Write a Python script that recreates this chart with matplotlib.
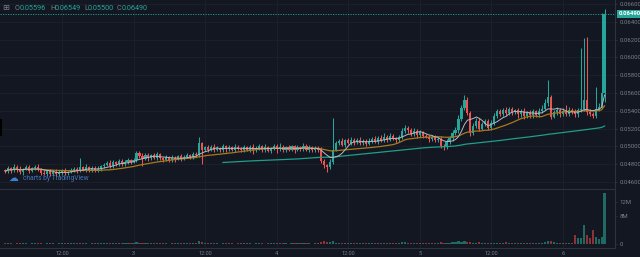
import numpy as np
import pandas as pd
import matplotlib
matplotlib.use('Agg')
import matplotlib.pyplot as plt
import matplotlib.transforms as mtransforms
from matplotlib.patches import Rectangle

plt.rcParams['font.family'] = ['Roboto', 'DejaVu Sans']

# ---------------- data (prices in 1e-5 units, volume in millions) ----------------
first_open_1e5 = 4735
close_1e5 = [
    4720, 4755, 4730, 4768, 4740, 4712, 4750, 4765, 4725, 4758, 4772, 4738,
    4705, 4690, 4722, 4695, 4718, 4688, 4710, 4730, 4698, 4715, 4735,
    4750, 4728, 4765, 4740, 4770, 4732, 4758, 4725, 4745, 4775,
    4790, 4815, 4780, 4822, 4800, 4835, 4805, 4825,
    4848, 4830, 4842,
    4930,
    4895, 4860, 4905, 4868, 4900, 4872, 4910, 4865,
    4850, 4880, 4845, 4875, 4858, 4890, 4862, 4885,
    4900, 4880, 4912, 4905,
    5035,
    4965,
    4990, 4960, 4995, 4965, 4985, 4955, 5000, 4970, 4992, 4962, 4998, 4975, 4960, 4990,
    4965, 4995, 4955, 4985, 5000, 4962, 4990, 4950, 4982, 5005, 4968, 4995, 4958, 4988,
    4965, 5000, 4960, 4992, 4970, 5008, 4962, 4990, 4955, 4985, 4960,
    4840, 4790, 4770,
    4830, 4965,
    5035, 5060, 5020, 5068, 5040, 5075, 5045, 5070, 5038, 5060,
    5030, 5065, 5085, 5055, 5100, 5070, 5110, 5075, 5120, 5090, 5070, 5105,
    5170, 5210, 5185,
    5140, 5175, 5125, 5160, 5115,
    5110, 5080, 5105, 5070, 5085, 5005, 4990, 5045,
    5090, 5150, 5180,
    5310, 5430, 5525,
    5380, 5150,
    5230, 5290, 5200, 5255,
    5285, 5210, 5265,
    5340, 5400, 5365,
    5410, 5375, 5420, 5385, 5405,
    5360, 5400, 5340, 5385, 5350, 5395, 5355, 5395,
    5425, 5485, 5550,
    5335,
    5385, 5410, 5360, 5400, 5365, 5415, 5390,
    5360, 5405, 5425, 5525, 5385, 5365, 5345, 5420, 5445, 5596, 6490,
]
up_wick_1e5 = [
    15, 25, 10, 30, 18, 35, 12, 22, 28, 12, 20, 32,
    18, 26, 14, 24, 12, 30, 20, 16, 26, 14, 22,
    20, 18, 110, 16, 28, 14, 24, 18, 30, 20,
    24, 16, 30, 20, 14, 28, 18, 22,
    20, 16, 30,
    24,
    20, 28, 16, 24, 18, 30, 22, 14,
    18, 24, 16, 28, 20, 14, 26, 18,
    22, 16, 28, 20,
    75,
    20,
    18, 24, 16, 30, 20, 14, 28, 18, 22, 16, 32, 20, 14, 24,
    20, 16, 28, 18, 24, 14, 32, 20, 16, 26, 18, 40, 22, 16,
    28, 20, 14, 24, 18, 30, 16, 22, 20, 18, 24,
    30, 20, 16,
    24, 355,
    30, 20, 36, 18, 24, 28, 16, 22, 32, 20,
    18, 26, 20, 30, 16, 24, 40, 18, 28, 22, 16, 26,
    35, 30, 24,
    20, 28, 18, 24, 16,
    24, 18, 28, 20, 16, 30, 22, 35,
    28, 30, 35,
    40, 30, 55,
    25, 20,
    35, 25, 30, 20,
    25, 20, 30,
    35, 25, 20,
    20, 28, 18, 24, 16,
    28, 20, 35, 18, 24, 30, 20, 40,
    35, 45, 200,
    25,
    24, 35, 20, 30, 60, 24, 20,
    30, 25, 685, 695, 705, 35, 25, 250, 40, 904, 59,
]
down_wick_1e5 = [
    20, 14, 28, 16, 24, 18, 30, 12, 22, 18, 26, 16,
    24, 16, 20, 28, 14, 22, 18, 26, 16, 20, 14,
    18, 24, 16, 20, 26, 14, 22, 18, 16, 24,
    20, 14, 26, 18, 22, 16, 24, 20,
    18, 24, 16,
    20,
    24, 80, 18, 28, 20, 16, 26, 22,
    20, 16, 24, 18, 28, 14, 22, 20,
    18, 24, 16, 20,
    24,
    160,
    20, 28, 16, 24, 18, 22, 14, 30, 20, 16, 26, 18, 24, 20,
    18, 24, 40, 16, 22, 20, 28, 14, 24, 18, 45, 20, 16, 26,
    22, 18, 35, 16, 24, 20, 18, 28, 22, 16, 24,
    30, 35, 60,
    20, 24,
    20, 24, 16, 28, 18, 22, 26, 16, 20, 24,
    22, 16, 28, 18, 24, 20, 16, 26, 18, 22, 28, 20,
    20, 24, 30,
    24, 18, 28, 20, 22,
    20, 26, 16, 24, 18, 28, 30, 20,
    20, 24, 18,
    30, 24, 20,
    24, 35,
    20, 28, 24, 18,
    24, 30, 20,
    20, 24, 28,
    18, 24, 20, 28, 16,
    40, 24, 35, 18, 28, 30, 22, 20,
    24, 20, 30,
    30,
    20, 28, 24, 18, 22, 26, 20,
    30, 24, 20, 28, 30, 24, 30, 20, 24, 15, 96,
]
volume_m = [
    .2, .15, .25, .1, .2, .3, .15, .2, .1, .25, .2, .15,
    .2, .1, .15, .25, .2, .1, .15, .2, .3, .15, .2,
    .25, .2, .4, .15, .2, .1, .2, .15, .25, .3,
    .2, .25, .15, .3, .2, .15, .25, .2,
    .2, .3, .15,
    .45,
    .3, .35, .2, .25, .15, .2, .3, .2,
    .15, .2, .1, .2, .15, .25, .2, .15,
    .2, .25, .15, .3,
    .9,
    .6,
    .3, .25, .2, .15, .2, .1, .25, .2, .15, .2, .1, .15, .2, .15,
    .15, .2, .1, .2, .25, .15, .1, .2, .15, .25, .2, .3, .15, .2,
    .1, .2, .15, .4, .2, .15, .25, .2, .1, .15, .3,
    .7, .8, .6,
    .5, .9,
    .4, .3, .25, .2, .3, .2, .15, .25, .2, .15,
    .2, .25, .15, .2, .3, .2, .25, .15, .3, .2, .15, .2,
    .5, .6, .3,
    .3, .2, .35, .25, .2,
    .2, .25, .2, .3, .35, .6, .4, .3,
    .3, .45, .5,
    .8, .7, .9,
    .6, .7,
    .3, .4, .6, .3,
    .4, .3, .25,
    .4, .3, .25,
    .2, .6, .3, .2, .25,
    .3, .2, .3, .2, .25, .2, .15, .3,
    .4, .6, .9,
    .9,
    .5, .4, .3, .35, .25, .3, .2,
    2.6, 1.7, 1.7, 5.4, 2.6, 1.7, 4.0, 2.0, 1.3, 2.0, 14.6,
]
x_tick_idx = [19, 43, 67, 91, 115, 139, 163, 187]
x_tick_labels = ['12:00', '3', '12:00', '4', '12:00', '5', '12:00', '6']
price_ticks = [0.046, 0.048, 0.050, 0.052, 0.054, 0.056, 0.058, 0.060, 0.062, 0.064, 0.066]
vol_ticks = [0, 8, 12]
vol_tick_labels = ['0', '8M', '12M']
header_values = [('O', '0.05596'), ('H', '0.06549'), ('L', '0.05500'), ('C', '0.06490')]
last_price = 0.06490

# ---------------- derived ----------------
close = np.array(close_1e5) / 1e5
open_ = np.concatenate([[first_open_1e5 / 1e5], close[:-1]])
high = np.maximum(open_, close) + np.array(up_wick_1e5) / 1e5
low = np.minimum(open_, close) - np.array(down_wick_1e5) / 1e5
vol = np.array(volume_m)
idx = np.arange(len(close))
s = pd.Series(close)
ma7 = s.rolling(7, min_periods=1).mean()
ma25 = s.rolling(25, min_periods=1).mean()
ma99 = s.rolling(99, min_periods=74).mean()

BG = '#131722'
GRID = '#1d212c'
UP = '#26a69a'
DOWN = '#ef5350'
TXT = '#7a7d87'
AXL = '#2e323d'

W, H = 640, 257
fig = plt.figure(figsize=(6.4, 2.57), dpi=100, facecolor=BG)
ax = fig.add_axes([0, 1 - 189 / H, 615 / W, 189 / H], facecolor=BG)
axv = fig.add_axes([0, 1 - 248 / H, 615 / W, 58 / H], facecolor=BG, sharex=ax)

up_mask = close >= open_
colors = np.where(up_mask, UP, DOWN)

# wicks + bodies
ax.vlines(idx, low, high, colors=colors, linewidth=0.75, zorder=3)
body_h = np.maximum(np.abs(close - open_), 0.00003)
ax.bar(idx, body_h, bottom=np.minimum(open_, close), width=0.72, color=colors,
       linewidth=0, zorder=4)

# moving averages
ax.plot(idx, ma99, color='#1f9e89', linewidth=0.9, zorder=5)
ax.plot(idx, ma25, color='#a8791c', linewidth=0.9, zorder=5)
ax.plot(idx, ma7, color='#b8b8c0', linewidth=0.7, zorder=6)

# last price line and label
ax.axhline(last_price, color=UP, linewidth=0.6, linestyle=(0, (1.5, 1.5)), zorder=2)
trans = mtransforms.blended_transform_factory(ax.transAxes, ax.transData)
ax.text(1.006, last_price, f'{last_price:.5f}', transform=trans, ha='left', va='center',
        fontsize=4.3, color='white', fontweight='bold', clip_on=False, zorder=10,
        bbox=dict(boxstyle='square,pad=0.25', fc=UP, ec='none'))

ax.set_xlim(-1.78, 204.5)
ax.set_ylim(0.045213, 0.06646)
ax.set_yticks(price_ticks)
ax.set_yticklabels([f'{p:.5f}' for p in price_ticks])
ax.yaxis.tick_right()
ax.tick_params(axis='y', colors=AXL, labelcolor=TXT, labelsize=4.3, length=1.5, width=0.6, pad=1.5)
ax.tick_params(axis='x', labelbottom=False, length=0)
ax.set_xticks(x_tick_idx)
ax.grid(True, color=GRID, linewidth=0.6)
ax.set_axisbelow(True)
for sp in ['top', 'left']:
    ax.spines[sp].set_visible(False)
ax.spines['right'].set_color(AXL)
ax.spines['bottom'].set_color(AXL)
ax.spines['right'].set_linewidth(0.8)
ax.spines['bottom'].set_linewidth(0.8)

# volume
vcolors = np.where(up_mask, '#1f6b63', '#8c3435')
axv.bar(idx, vol, width=0.72, color=vcolors, linewidth=0, zorder=3)
axv.set_ylim(-1.15, 15.43)
axv.set_yticks(vol_ticks)
axv.set_yticklabels(vol_tick_labels)
axv.yaxis.tick_right()
axv.tick_params(axis='y', colors=AXL, labelcolor=TXT, labelsize=4.3, length=1.5, width=0.6, pad=1.5)
axv.set_xticks(x_tick_idx)
axv.set_xticklabels(x_tick_labels)
axv.tick_params(axis='x', colors=AXL, labelcolor=TXT, labelsize=4.0, length=0, pad=2)
axv.grid(True, axis='x', color=GRID, linewidth=0.6)
axv.set_axisbelow(True)
for sp in ['top', 'left']:
    axv.spines[sp].set_visible(False)
axv.spines['right'].set_color(AXL)
axv.spines['bottom'].set_color(AXL)
axv.spines['right'].set_linewidth(0.8)
axv.spines['bottom'].set_linewidth(0.8)

# header legend
hy = 1 - 8 / H
fig.text(6 / W, hy, '\u229e', color=TXT, fontsize=6, ha='center', va='center',
         family='DejaVu Sans')
xpos = [(15, 19.5), (50, 55), (84, 88), (117, 122)]
for (lab, val), (xl, xv) in zip(header_values, xpos):
    fig.text(xl / W, hy, lab, color=TXT, fontsize=5.2, ha='left', va='center')
    fig.text(xv / W, hy, val, color=UP, fontsize=5.2, ha='left', va='center')

# watermark
wy = 1 - 178 / H
fig.text(13 / W, wy, '\u2601', color='#3f7fd0', fontsize=7, ha='center', va='center',
         family='DejaVu Sans')
fig.text(23 / W, wy, 'charts by TradingView', color='#4576b8', fontsize=4.8,
         ha='left', va='center')

# small dark marker at left edge
fig.patches.append(Rectangle((0, 1 - 136 / H), 2 / W, 17 / H, transform=fig.transFigure,
                             facecolor='#000000', edgecolor='none'))

fig.savefig('out.png', dpi=100, facecolor=BG)
